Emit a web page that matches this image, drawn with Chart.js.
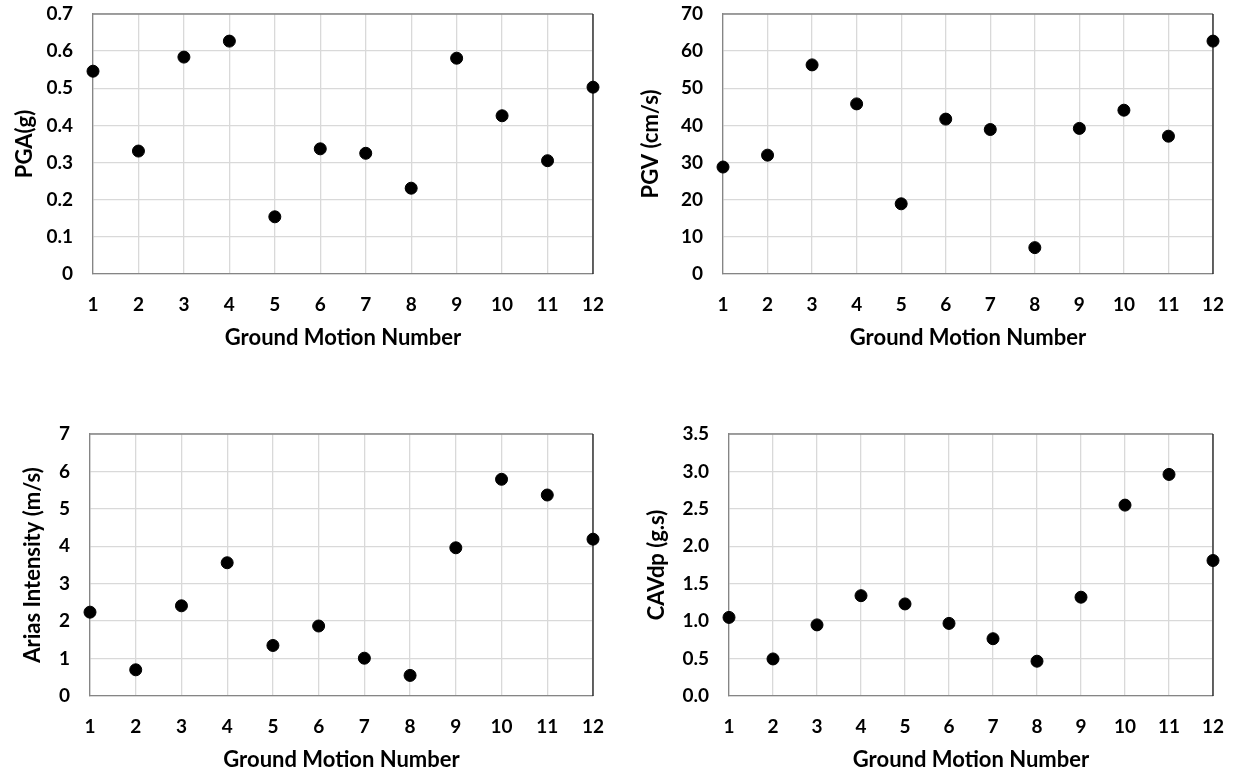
<!DOCTYPE html>
<html>
<head>
<meta charset="utf-8">
<script src="https://cdn.jsdelivr.net/npm/chart.js@4"></script>
<style>
  body { margin: 0; background: #fff; }
  #wrap { position: relative; width: 1236px; height: 776px; }
  .box { position: absolute; width: 618px; }
</style>
</head>
<body>
<div id="wrap">
  <div class="box" style="left:0;top:0;height:380px"><canvas id="pga-chart"></canvas></div>
  <div class="box" style="left:618px;top:0;height:380px"><canvas id="pgv-chart"></canvas></div>
  <div class="box" style="left:0;top:400px;height:376px"><canvas id="arias-chart"></canvas></div>
  <div class="box" style="left:618px;top:400px;height:376px"><canvas id="cav-chart"></canvas></div>
</div>
<script>
// data
const motions = [1, 2, 3, 4, 5, 6, 7, 8, 9, 10, 11, 12];
const pga = [0.546, 0.331, 0.584, 0.627, 0.154, 0.337, 0.325, 0.231, 0.581, 0.426, 0.305, 0.503];
const pgv = [28.8, 32.0, 56.3, 45.8, 18.9, 41.7, 38.9, 7.1, 39.2, 44.1, 37.1, 62.7];
const arias = [2.24, 0.70, 2.41, 3.56, 1.35, 1.87, 1.01, 0.55, 3.96, 5.79, 5.37, 4.19];
const cavdp = [1.05, 0.495, 0.95, 1.34, 1.23, 0.97, 0.765, 0.465, 1.32, 2.55, 2.96, 1.81];

const pgaTicks = ['0', '0.1', '0.2', '0.3', '0.4', '0.5', '0.6', '0.7'];
const pgvTicks = ['0', '10', '20', '30', '40', '50', '60', '70'];
const ariasTicks = ['0', '1', '2', '3', '4', '5', '6', '7'];
const cavTicks = ['0.0', '0.5', '1.0', '1.5', '2.0', '2.5', '3.0', '3.5'];

const FONT = 'Lato, Carlito, "Liberation Sans", sans-serif';

// top + right frame of the plot area
const frame = {
	id: 'frame',
	beforeDatasetsDraw(chart) {
		const a = chart.chartArea, ctx = chart.ctx;
		ctx.save();
		ctx.lineWidth = 1.3;
		ctx.strokeStyle = '#858585';
		ctx.beginPath();
		ctx.moveTo(a.left, a.top);
		ctx.lineTo(a.right, a.top);
		ctx.stroke();
		ctx.strokeStyle = '#1a1a1a';
		ctx.beginPath();
		ctx.moveTo(a.right, a.top);
		ctx.lineTo(a.right, a.bottom);
		ctx.stroke();
		ctx.restore();
	}
};

function makeChart(id, values, ticks, step, yTitle, lay) {
	const pts = motions.map((m, i) => ({ x: m, y: values[i] }));
	return new Chart(document.getElementById(id), {
		type: 'scatter',
		data: {
			datasets: [{
				data: pts,
				backgroundColor: '#000',
				borderColor: '#000',
				pointRadius: 6,
				pointHoverRadius: 6,
				clip: false
			}]
		},
		options: {
			animation: false,
			responsive: true,
			maintainAspectRatio: false,
			events: [],
			layout: { padding: { top: lay.top, right: lay.right, bottom: lay.bottom, left: 0 } },
			plugins: { legend: { display: false }, tooltip: { enabled: false } },
			scales: {
				x: {
					type: 'linear',
					min: 1,
					max: 12,
					afterBuildTicks: s => { s.ticks = motions.map(v => ({ value: v })); },
					ticks: { color: '#000', padding: 19, font: { family: FONT, size: 19, weight: 'bold' }, maxRotation: 0 },
					grid: { color: '#d9d9d9', lineWidth: 1.3, drawTicks: false },
					border: { color: '#858585', width: 1.3 },
					title: { display: true, text: 'Ground Motion Number', color: '#000', padding: 0,
						font: { family: FONT, size: 22, weight: 'bold' } },
					afterFit: s => { s.height = 77; s.paddingLeft = 0; s.paddingRight = 0; }
				},
				y: {
					min: 0,
					max: step * (ticks.length - 1),
					afterBuildTicks: s => { s.ticks = ticks.map((t, i) => ({ value: i * step })); },
					ticks: { color: '#000', padding: 20, font: { family: FONT, size: 19, weight: 'bold' },
						callback: (v, i) => ticks[i] },
					grid: { color: '#d9d9d9', lineWidth: 1.3, drawTicks: false },
					border: { color: '#858585', width: 1.3 },
					title: { display: true, text: yTitle, color: '#000', padding: { top: lay.titlePad, bottom: 0 },
						font: { family: FONT, size: 22, weight: 'bold' } },
					afterFit: s => { s.width = lay.yWidth; s.paddingTop = 0; s.paddingBottom = 0; }
				}
			}
		},
		plugins: [frame]
	});
}

document.addEventListener('DOMContentLoaded', function () {
	makeChart('pga-chart', pga, pgaTicks, 0.1, 'PGA(g)',
		{ top: 14, right: 25, bottom: 29, yWidth: 93, titlePad: 12 });
	makeChart('pgv-chart', pgv, pgvTicks, 10, 'PGV (cm/s)',
		{ top: 14, right: 23, bottom: 29, yWidth: 105, titlePad: 20 });
	makeChart('arias-chart', arias, ariasTicks, 1, 'Arias Intensity (m/s)',
		{ top: 34, right: 25, bottom: 3, yWidth: 90, titlePad: 20 });
	makeChart('cav-chart', cavdp, cavTicks, 0.5, 'CAVdp (g.s)',
		{ top: 34, right: 23, bottom: 3, yWidth: 111, titlePad: 26 });
});
</script>
</body>
</html>
